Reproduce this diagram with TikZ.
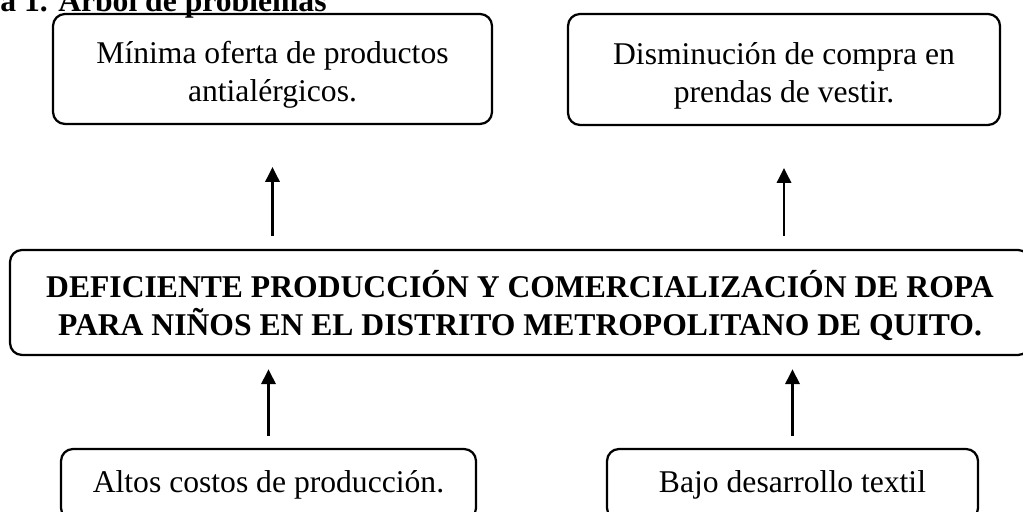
\documentclass[tikz,border=0pt]{standalone}
\usepackage{fontspec}
\setmainfont{Liberation Serif}
\usetikzlibrary{arrows.meta}
\newcommand{\alto}{\rule{0pt}{0.85cm}}

\begin{document}
\begin{tikzpicture}[caja/.style={draw,rectangle,rounded corners=0.3cm,line width=1.6pt,align=center,inner sep=0pt},
    flecha/.style={-{Triangle[length=0.37cm,width=0.36cm]},line width=1.5pt}] % arbol de problemas
      \path[use as bounding box,clip] (0,0) rectangle (25.575,-12.8);
      \fontsize{22.5}{27}\selectfont
      \node[anchor=base west,inner sep=0pt,font=\bfseries] (titulo) at (0,-0.28) {a 1. Árbol de problemas};
      % efectos
      \node[caja,minimum width=10.975cm,minimum height=2.75cm] (efecto1) at (6.8125,-1.725)
        {\alto Mínima oferta de productos\\antialérgicos.};
      \node[caja,minimum width=10.8cm,minimum height=2.775cm] (efecto2) at (19.6,-1.7375)
        {\alto Disminución de compra en\\prendas de vestir.};
      % problema central
      \node[caja,minimum width=25.5cm,minimum height=2.625cm,font=\bfseries] (problema) at (13,-7.5625)
        {\alto DEFICIENTE PRODUCCIÓN Y COMERCIALIZACIÓN DE ROPA\\PARA NIÑOS EN EL DISTRITO METROPOLITANO DE QUITO.};
      % causas
      \node[caja,minimum width=10.375cm,minimum height=1.775cm] (causa1) at (6.7125,-12.1125)
        {Altos costos de producción.};
      \node[caja,minimum width=9.275cm,minimum height=1.775cm] (causa2) at (19.8125,-12.1125)
        {Bajo desarrollo textil};
      \draw[flecha,shorten <=0.3cm,shorten >=0.33cm] (causa1.north) -- (causa1.north |- problema.south);
      \draw[flecha,shorten <=0.3cm,shorten >=0.33cm] (causa2.north) -- (causa2.north |- problema.south);
      \draw[flecha,shorten <=0.33cm,shorten >=1.05cm] (problema.north -| efecto1) -- (efecto1.south);
      \draw[flecha,shorten <=0.33cm,shorten >=1.05cm] (problema.north -| efecto2) -- (efecto2.south);
    \end{tikzpicture}
\end{document}
